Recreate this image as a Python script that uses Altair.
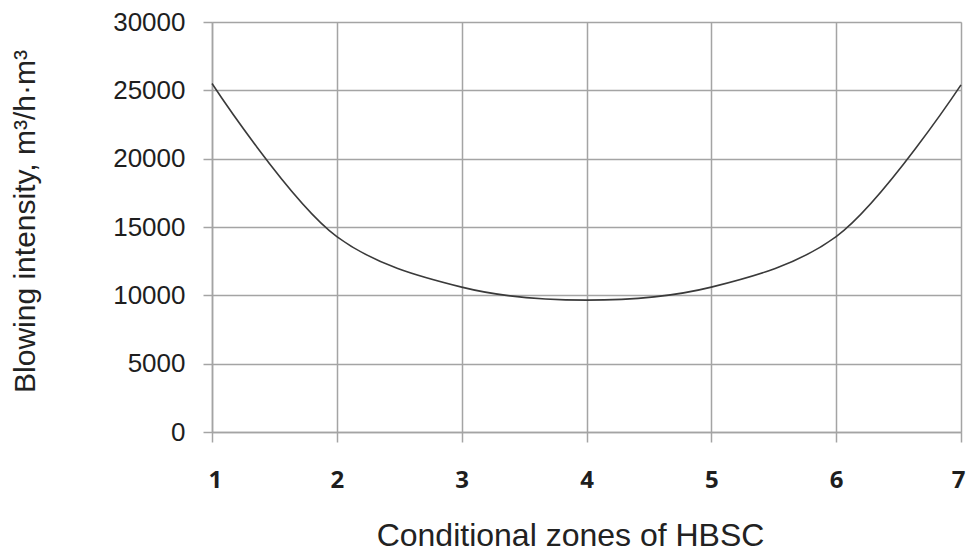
import altair as alt
import pandas as pd

zones = [1, 2, 3, 4, 5, 6, 7]
intensity = [25500, 14300, 10600, 9650, 10600, 14300, 25400]
x_ticks = [1, 2, 3, 4, 5, 6, 7]
y_ticks = [0, 5000, 10000, 15000, 20000, 25000, 30000]

df = pd.DataFrame({"zone": zones, "intensity": intensity})

grid_color = "#a4a4a4"

chart = alt.Chart(df).mark_line(
    interpolate="catmull-rom", color="#3a3a3a", strokeWidth=1.6
).encode(
    x=alt.X(
        "zone:Q",
        scale=alt.Scale(domain=[1, 7], nice=False, zero=False),
        axis=alt.Axis(
            values=x_ticks,
            title="Conditional zones of HBSC",
            format="d",
            grid=True,
            gridColor=grid_color,
            gridWidth=1.5,
            domainColor=grid_color,
            domainWidth=1.5,
            tickColor=grid_color,
            tickWidth=1.5,
            tickSize=10,
            labelPadding=26,
            labelFont="Open Sans",
            labelFontWeight="bold",
            labelFontSize=24,
            labelColor="#1e1e1e",
            labelFlush=True,
            labelFlushOffset=4,
            titleFont="Liberation Sans",
            titleFontSize=32,
            titleFontWeight="normal",
            titleColor="#222222",
            titleBaseline="alphabetic",
            titleX=358,
            titleY=113,
        ),
    ),
    y=alt.Y(
        "intensity:Q",
        scale=alt.Scale(domain=[0, 30000], nice=False),
        axis=alt.Axis(
            values=y_ticks,
            title="Blowing intensity, m³/h·m³",
            format="d",
            grid=True,
            gridColor=grid_color,
            gridWidth=1.5,
            domainColor=grid_color,
            domainWidth=1.5,
            tickColor=grid_color,
            tickWidth=1.5,
            tickSize=9,
            labelPadding=18,
            labelFont="Liberation Sans",
            labelFontSize=26,
            labelColor="#1e1e1e",
            titleFont="Liberation Sans",
            titleFontSize=30,
            titleFontWeight="normal",
            titleColor="#222222",
            titlePadding=72,
            titleY=199,
        ),
    ),
).properties(
    width=749,
    height=410,
    autosize=alt.AutoSizeParams(type="none"),
    padding={"left": 204, "top": 14, "right": 6, "bottom": 120},
).configure_view(
    stroke=grid_color, strokeWidth=1.5
).configure(background="white")

chart.save("out.html", embed_options={"renderer": "svg", "actions": False})
